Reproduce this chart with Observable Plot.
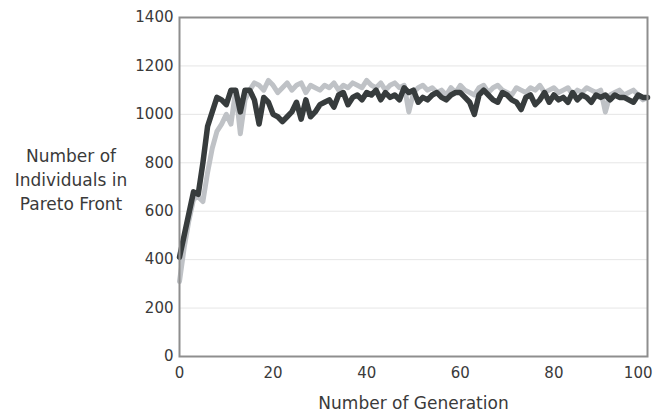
<!DOCTYPE html>
<html>
<head>
<meta charset="utf-8">
<script src="https://cdn.jsdelivr.net/npm/d3@7"></script>
<script src="https://cdn.jsdelivr.net/npm/@observablehq/plot@0.6"></script>
<style>
  html, body { margin: 0; padding: 0; background: #fff; }
</style>
</head>
<body>
<div id="chart"></div>
<script>
const generations = d3.range(0, 101);

const darkSeries = [
  410, 500, 590, 680, 670, 800, 950, 1010, 1070, 1060, 1040,
  1100, 1100, 1010, 1100, 1100, 1060, 960, 1070, 1050, 1000,
  990, 970, 990, 1010, 1050, 980, 1060, 990, 1010, 1040,
  1050, 1060, 1030, 1080, 1090, 1040, 1070, 1080, 1060, 1090,
  1080, 1100, 1060, 1090, 1070, 1080, 1060, 1110, 1090, 1100,
  1050, 1070, 1060, 1080, 1090, 1070, 1060, 1080, 1090, 1090,
  1070, 1050, 1000, 1080, 1100, 1080, 1060, 1050, 1090, 1080,
  1060, 1050, 1020, 1070, 1080, 1040, 1060, 1090, 1050, 1080,
  1060, 1070, 1050, 1090, 1060, 1080, 1070, 1050, 1080, 1070,
  1080, 1060, 1080, 1070, 1070, 1060, 1050, 1080, 1070, 1070
];

const lightSeries = [
  310, 450, 560, 650, 660, 640, 760, 860, 930, 960, 1000,
  960, 1100, 920, 1060, 1100, 1130, 1120, 1100, 1140, 1120,
  1090, 1110, 1130, 1100, 1120, 1130, 1090, 1120, 1110, 1100,
  1120, 1110, 1130, 1100, 1120, 1110, 1130, 1120, 1110, 1140,
  1120, 1110, 1130, 1100, 1120, 1130, 1110, 1120, 1010, 1090,
  1110, 1120, 1100, 1110, 1090, 1100, 1080, 1110, 1090, 1120,
  1100, 1090, 1080, 1110, 1120, 1090, 1110, 1120, 1100, 1090,
  1080, 1110, 1100, 1090, 1110, 1100, 1120, 1090, 1100, 1110,
  1090, 1100, 1110, 1080, 1100, 1090, 1110, 1100, 1090, 1100,
  1010, 1080, 1090, 1100, 1080, 1090, 1100, 1080, 1060, 1070
];

const xTicks = [0, 20, 40, 60, 80];
const xLastTick = [100];
const yTicks = [0, 200, 400, 600, 800, 1000, 1200, 1400];
const yLabel = "Number of\nIndividuals in\nPareto Front";
const xLabel = "Number of Generation";

const rows = generations.map((g, i) => ({g, dark: darkSeries[i], light: lightSeries[i]}));
const plain = d => String(d);

const chart = Plot.plot({
  width: 661,
  height: 416,
  marginLeft: 179,
  marginRight: 14,
  marginTop: 17,
  marginBottom: 60,
  style: {fontFamily: "'DejaVu Sans', sans-serif", fontSize: "15px", color: "#3a3a3a", background: "#fff"},
  x: {domain: [0, 100]},
  y: {domain: [0, 1400]},
  marks: [
    Plot.gridY(yTicks, {stroke: "#e6e6e6", strokeOpacity: 1, strokeWidth: 1}),
    Plot.axisY(yTicks, {tickSize: 0, tickPadding: 6, label: null, fontSize: 15, tickFormat: plain}),
    Plot.axisX(xTicks, {tickSize: 0, tickPadding: 11, label: null, fontSize: 15, tickFormat: plain}),
    Plot.axisX(xLastTick, {tickSize: 0, tickPadding: 11, label: null, fontSize: 15, tickFormat: plain, textAnchor: "end", dx: 5}),
    Plot.line(rows, {x: "g", y: "light", stroke: "#bfc2c6", strokeWidth: 5, strokeLinejoin: "round", strokeLinecap: "round"}),
    Plot.line(rows, {x: "g", y: "dark", stroke: "#373c3d", strokeWidth: 5.5, strokeLinejoin: "round", strokeLinecap: "round"}),
    Plot.frame({stroke: "#8e8e8e", strokeWidth: 2}),
    Plot.text([yLabel], {frameAnchor: "left", dx: -108.5, dy: -8.5, textAnchor: "middle", lineAnchor: "middle", lineHeight: 1.41, fontSize: 17, fill: "#3a3a3a"}),
    Plot.text([xLabel], {frameAnchor: "bottom", dy: 47, textAnchor: "middle", lineAnchor: "middle", fontSize: 17, fill: "#3a3a3a"})
  ]
});

document.getElementById("chart").appendChild(chart);
</script>
</body>
</html>
